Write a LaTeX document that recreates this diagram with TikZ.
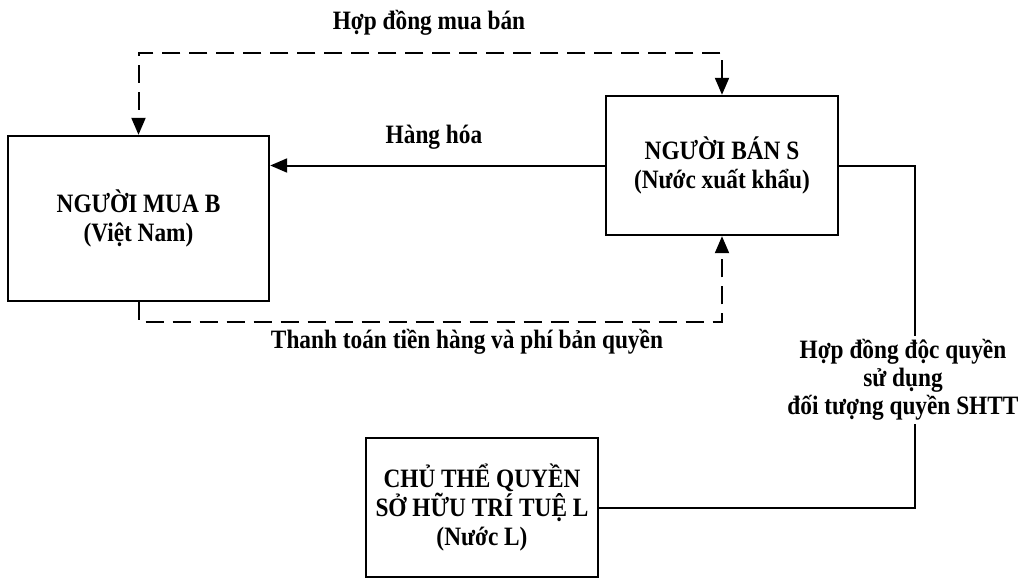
\documentclass[tikz,border=0pt]{standalone}
\usepackage{fontspec}
\setmainfont{Liberation Serif}[FakeStretch=0.88]
\usetikzlibrary{arrows.meta}
\tikzset{
  boxnode/.style={draw=black, line width=2.4pt, align=center, inner sep=0pt, font=\bfseries\fontsize{26.5}{29}\selectfont},
  lbl/.style={align=center, inner sep=3pt, font=\bfseries\fontsize{26.5}{28}\selectfont},
  conn/.style={draw=black, line width=2pt},
  dline/.style={conn, dash pattern=on 18pt off 9pt},
  tip/.style={-{Triangle[length=17pt,width=14pt]}},
  tips/.style={{Triangle[length=17pt,width=14pt]}-{Triangle[length=17pt,width=14pt]}}
}
\begin{document}
\begin{tikzpicture}[x=1pt,y=-1pt]
\useasboundingbox (0,0) rectangle (1026,579);
\node[boxnode, minimum width=261pt, minimum height=165pt] (B) at (138.5,218.5) {NGƯỜI MUA B\\(Việt Nam)};
\node[boxnode, minimum width=232pt, minimum height=139pt] (S) at (722,165.5) {NGƯỜI BÁN S\\(Nước xuất khẩu)};
\node[boxnode, minimum width=232pt, minimum height=139pt] (L) at (482,507.5) {CHỦ THỂ QUYỀN\\SỞ HỮU TRÍ TUỆ L\\(Nước L)};
\coordinate (top) at (0,53);
\coordinate (bot) at (0,322);
\coordinate (rt) at (915,0);
% contract of sale
\draw[dline, tips] (S.north) -- (S.north |- top) -- (B.north |- top) -- (B.north);
\node[lbl] (hd) at (429,23) {Hợp đồng mua bán};
% goods
\draw[conn, tip] (S.west) -- (S.west -| B.east);
\node[lbl] (hh) at (434,137) {Hàng hóa};
% payment
\draw[dline, tip] (B.south) -- (B.south |- bot) -- (S.south |- bot) -- (S.south);
\node[lbl] (tt) at (467,342) {Thanh toán tiền hàng và phí bản quyền};
% licence
\draw[conn] (S.east) -- (S.east -| rt) -- (L.east -| rt) -- (L.east);
\node[lbl, fill=white] (lic) at (903,380) {Hợp đồng độc quyền\\sử dụng\\đối tượng quyền SHTT};
\end{tikzpicture}
\end{document}
